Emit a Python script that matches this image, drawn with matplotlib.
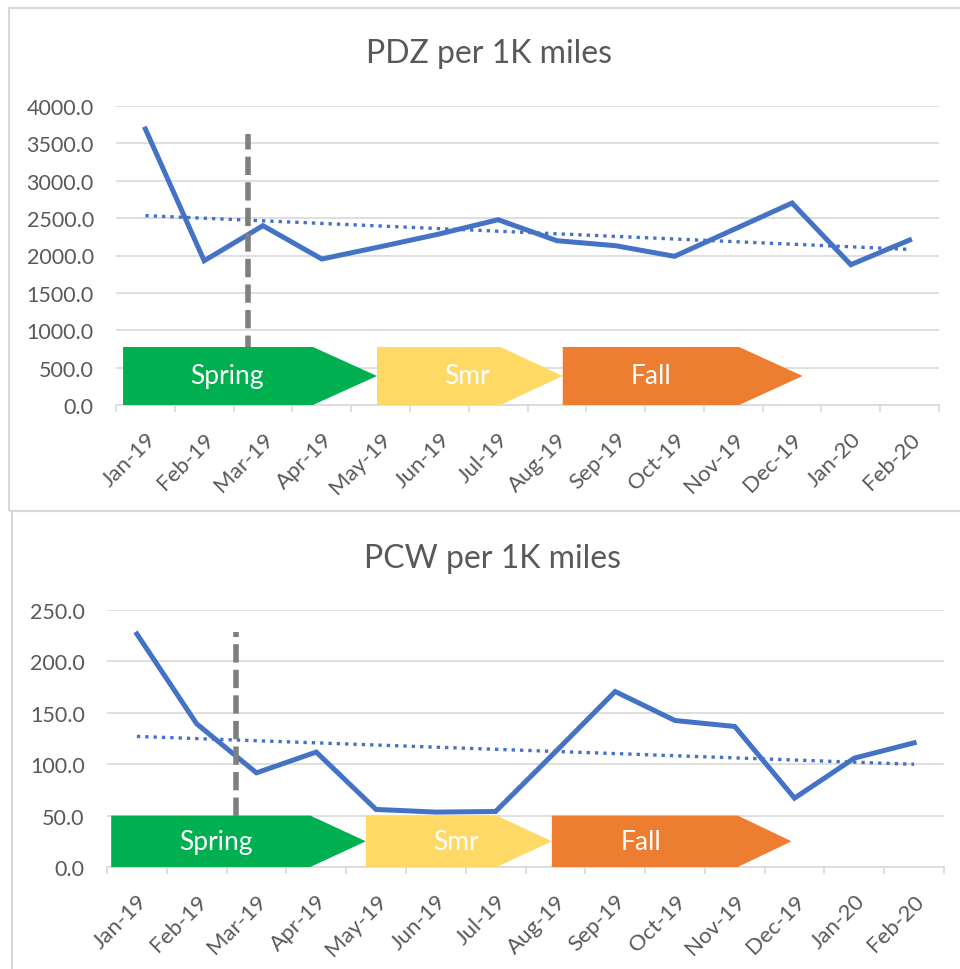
import numpy as np
import matplotlib
matplotlib.use("Agg")
import matplotlib.pyplot as plt
from matplotlib.patches import Polygon, Rectangle

plt.rcParams['font.family'] = ['Lato', 'DejaVu Sans']

# data
months = ['Jan-19', 'Feb-19', 'Mar-19', 'Apr-19', 'May-19', 'Jun-19', 'Jul-19',
          'Aug-19', 'Sep-19', 'Oct-19', 'Nov-19', 'Dec-19', 'Jan-20', 'Feb-20']
pdz = [3692, 1930, 2399, 1953, 2118, 2288, 2479, 2198, 2131, 1989, 2345, 2702, 1877, 2207]
pcw = [226.7, 139.3, 91.6, 111.8, 56.0, 53.4, 54.0, 112.0, 170.7, 142.5, 136.7, 67.0, 105.9, 120.8]

seasons = ['Spring', 'Smr', 'Fall']
season_colors = ['#00B050', '#FFD966', '#ED7D31']

BLUE = '#4472C4'
GREY_TXT = '#595959'
GRID = '#D9D9D9'

fig = plt.figure(figsize=(9.6, 9.7), dpi=100)

# chart area borders (two Excel charts stacked)
fig.patches.append(Rectangle((9 / 960, 1 - 512 / 970), 1.0, 503 / 970, transform=fig.transFigure,
                             fill=False, edgecolor=GRID, lw=1.5))
fig.patches.append(Rectangle((12 / 960, -0.01), 1.0, 1 - 512 / 970 + 0.01, transform=fig.transFigure,
                             fill=False, edgecolor=GRID, lw=1.5))


def draw_chart(ax, values, marker_x, marker_top, shapes, label_x, shape_top, ymax, ystep):
    x = np.arange(len(months))
    ax.set_xlim(-0.5, len(months) - 0.5)
    ax.set_ylim(0, ymax)
    ax.set_yticks(np.arange(0, ymax + ystep / 2, ystep))
    ax.yaxis.set_major_formatter(matplotlib.ticker.FormatStrFormatter('%.1f'))
    ax.grid(axis='y', color=GRID, lw=1.2, zorder=0)
    for s in ['top', 'right', 'left']:
        ax.spines[s].set_visible(False)
    ax.spines['bottom'].set_color(GRID)
    ax.spines['bottom'].set_linewidth(1.2)
    ax.tick_params(axis='y', length=0, labelsize=15.5, labelcolor=GREY_TXT, pad=16)
    ax.set_xticks(x)
    ax.set_xticklabels(months, rotation=45, ha='right', rotation_mode='anchor')
    ax.tick_params(axis='x', length=0, labelsize=16, labelcolor=GREY_TXT, pad=17)
    ax.set_xticks(np.arange(-0.5, len(months)), minor=True)
    ax.tick_params(axis='x', which='minor', length=5, color=GRID, width=1.2)

    ax.plot(x, values, color=BLUE, lw=3.6, zorder=3, solid_joinstyle='miter')
    # Excel linear trendline
    k, b = np.polyfit(x, values, 1)
    ax.plot(x, k * x + b, color=BLUE, lw=2.4, linestyle=(0, (1, 1.5)), zorder=3)
    ax.plot([marker_x, marker_x], [0, marker_top], color='#7F7F7F', lw=4,
            linestyle=(0, (3.3, 1.3)), zorder=4)

    for (x0, x1, x2), name, col, lx in zip(shapes, seasons, season_colors, label_x):
        pts = [(x0, 0), (x1, 0), (x2, shape_top / 2), (x1, shape_top), (x0, shape_top)]
        ax.add_patch(Polygon(pts, closed=True, facecolor=col, edgecolor='none', zorder=5))
        ax.text(lx, shape_top / 2, name, color='white', fontsize=19,
                ha='center', va='center', zorder=6)


ax1 = fig.add_axes([116 / 960, 1 - 406 / 970, 823 / 960, 299 / 970])
draw_chart(ax1, pdz, 1.74, 3630,
           [(-0.38, 2.85, 3.94), (3.94, 6.04, 7.10), (7.10, 10.10, 11.18)],
           [1.39, 5.47, 8.60], 776, 4000, 500)
fig.text(489 / 960, 1 - 63 / 970, 'PDZ per 1K miles', fontsize=23, color=GREY_TXT,
         ha='center', va='baseline')

ax2 = fig.add_axes([107 / 960, 1 - 868 / 970, 837 / 960, 257 / 970])
draw_chart(ax2, pcw, 1.66, 229,
           [(-0.43, 2.90, 3.83), (3.83, 6.02, 6.94), (6.94, 10.05, 10.95)],
           [1.33, 5.33, 8.43], 50, 250, 50)
fig.text(493 / 960, 1 - 568 / 970, 'PCW per 1K miles', fontsize=23, color=GREY_TXT,
         ha='center', va='baseline')

fig.savefig('out.png', dpi=100)
